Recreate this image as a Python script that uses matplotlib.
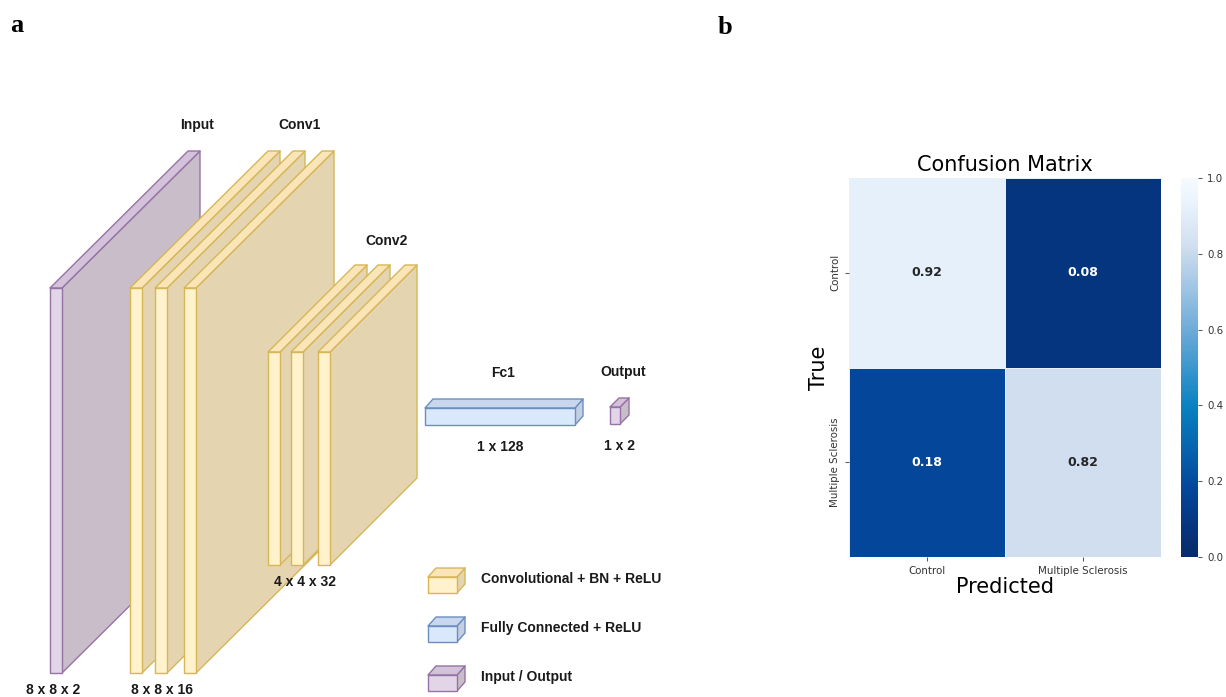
import numpy as np
import matplotlib
matplotlib.use("Agg")
import matplotlib.pyplot as plt
from matplotlib.patches import Polygon
from matplotlib.colors import LinearSegmentedColormap

# CNN architecture (panel a)
layer_names = ["Input", "Conv1", "Conv2", "Fc1", "Output"]
shape_labels = ["8 x 8 x 2", "8 x 8 x 16", "4 x 4 x 32", "1 x 128", "1 x 2"]
legend_labels = ["Convolutional + BN + ReLU", "Fully Connected + ReLU", "Input / Output"]

# confusion matrix (panel b)
class_names = ["Control", "Multiple Sclerosis"]
cm_values = np.array([[0.92, 0.08],
                      [0.18, 0.82]])
cbar_ticks = [0.0, 0.2, 0.4, 0.6, 0.8, 1.0]

# colours (front, side, top, edge)
yellow = ("#fff2cc", "#e5d4b0", "#fae5b9", "#d6b656")
purple = ("#e1d5e7", "#c9bdca", "#d3c2d9", "#9673a6")
blue = ("#dae8fc", "#c3d0e3", "#c8d7ee", "#6c8ebf")

# blues ramp, a bit deeper than the stock one
cmap = LinearSegmentedColormap.from_list(
    "deep_blues",
    [(0.0, "#082c68"), (0.08, "#06357f"), (0.18, "#04479a"), (0.4, "#0a82c2"),
     (0.6, "#6eabd8"), (0.82, "#d0deef"), (0.92, "#e6f0fb"), (1.0, "#f7fbff")])

W, H = 1226, 697
fig = plt.figure(figsize=(W / 100, H / 100), dpi=100)

ax = fig.add_axes([0, 0, 1, 1])
ax.set_xlim(0, W)
ax.set_ylim(H, 0)
ax.axis("off")


def plate(x, top, w, h, dx, dy, cols, lw=1.0):
    front, side, topc, edge = cols
    side_pts = [(x + w, top), (x + w + dx, top - dy), (x + w + dx, top + h - dy), (x + w, top + h)]
    top_pts = [(x, top), (x + w, top), (x + w + dx, top - dy), (x + dx, top - dy)]
    ax.add_patch(Polygon(side_pts, closed=True, fc=side, ec=edge, lw=lw, joinstyle="round"))
    ax.add_patch(Polygon(top_pts, closed=True, fc=topc, ec=edge, lw=lw, joinstyle="round"))
    ax.add_patch(Polygon([(x, top), (x + w, top), (x + w, top + h), (x, top + h)],
                         closed=True, fc=front, ec=edge, lw=lw))


lbl = dict(fontfamily="Liberation Sans", fontweight="bold", fontsize=10, color="#1a1a1a",
           ha="center", va="center")

# input plate
plate(50, 288, 12, 385, 138, 137, purple)
# conv1 plates
for px in [130, 155, 184]:
    plate(px, 288, 12, 385, 138, 137, yellow)
# conv2 plates
for px in [268, 291, 318]:
    plate(px, 352, 12, 213, 87, 87, yellow)
# fc1 and output
plate(425, 408, 150, 17, 8, 9, blue)
plate(610, 407, 10, 17, 9, 9, purple)

ax.text(197, 125, layer_names[0], **lbl)
ax.text(300, 125, layer_names[1], **lbl)
ax.text(387, 241, layer_names[2], **lbl)
ax.text(503, 373, layer_names[3], **lbl)
ax.text(623, 372, layer_names[4], **lbl)

ax.text(53, 690, shape_labels[0], **lbl)
ax.text(162, 690, shape_labels[1], **lbl)
ax.text(305, 582, shape_labels[2], **lbl)
ax.text(500, 447, shape_labels[3], **lbl)
ax.text(619, 446, shape_labels[4], **lbl)

# legend
for i, (name, cols) in enumerate(zip(legend_labels, [yellow, blue, purple])):
    y0 = 577 + i * 49
    plate(428, y0, 29, 16, 8, 9, cols)
    ax.text(481, y0 + 2, name, **{**lbl, "ha": "left"})

# panel letters
ax.text(10, 25, "a", fontfamily="Liberation Serif", fontweight="bold", fontsize=19,
        ha="left", va="center")
ax.text(718, 28, "b", fontfamily="Liberation Serif", fontweight="bold", fontsize=19,
        ha="left", va="center")

# confusion matrix heatmap
axb = fig.add_axes([849 / W, 1 - 557 / H, 312 / W, 379 / H])
cax = fig.add_axes([1181 / W, 1 - 557 / H, 17 / W, 379 / H])
im = axb.pcolormesh(cm_values, cmap=cmap, vmin=0, vmax=1, edgecolors="#e8f0fa", linewidth=0.4)
axb.set_xlim(0, 2)
axb.set_ylim(2, 0)
for r in range(2):
    for c in range(2):
        v = cm_values[r, c]
        axb.text(c + 0.5, r + 0.5, f"{v:.2f}", ha="center", va="center", fontsize=9,
                 fontweight="bold", color="#262626" if v > 0.5 else "white")
axb.set_xticks([0.5, 1.5])
axb.set_xticklabels(class_names, fontsize=7.4, color="#333333")
axb.set_yticks([0.5, 1.5])
axb.set_yticklabels(class_names, fontsize=7.4, rotation=90, va="center", color="#333333")
axb.tick_params(length=3, width=0.6, colors="#333333")
for s in axb.spines.values():
    s.set_visible(False)
axb.set_title("Confusion Matrix", fontsize=15, pad=5)
axb.set_xlabel("Predicted", fontsize=15, labelpad=1)
axb.set_ylabel("True", fontsize=15, labelpad=1)

cb = fig.colorbar(im, cax=cax, ticks=cbar_ticks)
cb.outline.set_visible(False)
cb.ax.tick_params(labelsize=7.4, length=3, width=0.6, colors="#333333")

fig.savefig("out.png", dpi=100)
